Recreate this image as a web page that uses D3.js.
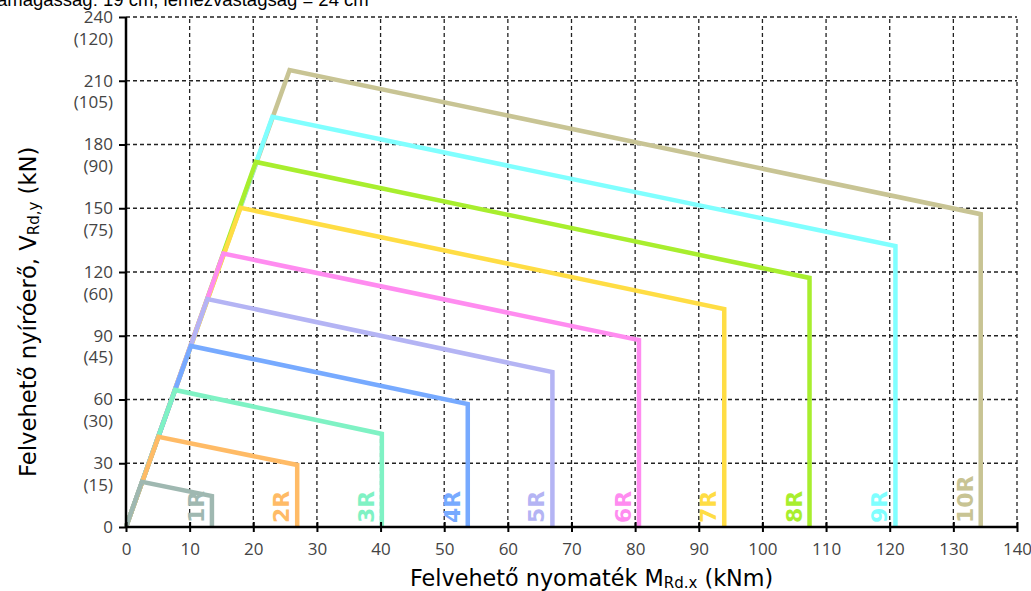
<!DOCTYPE html>
<html><head><meta charset="utf-8">
<script src="https://cdn.jsdelivr.net/npm/d3@7"></script>
<style>body{margin:0;background:#fff}svg{display:block}</style>
</head><body>
<svg id="c" width="1031" height="591"></svg>
<script>
const series = ["1R","2R","3R","4R","5R","6R","7R","8R","9R","10R"];
const peakX = [2.5, 5.1, 7.7, 10.2, 12.8, 15.3, 18.0, 20.4, 23.0, 25.7];
const peakY = [21.3, 42.4, 64.5, 85.2, 107.3, 128.7, 150.2, 171.8, 193.0, 215.0];
const endX = [13.5, 26.9, 40.2, 53.7, 67.0, 80.6, 94.0, 107.4, 120.9, 134.3];
const endY = [14.6, 29.2, 43.8, 57.9, 72.9, 88.0, 102.6, 117.2, 132.2, 147.2];
const colors = ["#9fb8b1","#ffbb66","#7ff2c4","#77aaff","#b4b4f4","#ff8cf0","#ffdd44","#a8ee2e","#80ffff","#c8c494"];
const xTicks = [0,10,20,30,40,50,60,70,80,90,100,110,120,130,140];
const yTicks = [0,30,60,90,120,150,180,210,240];
const yTicksSub = ["","(15)","(30)","(45)","(60)","(75)","(90)","(105)","(120)"];
const title = "amagasság: 19 cm, lemezvastagság = 24 cm";

const svg = d3.select("#c");
const x = d3.scaleLinear().domain([0,140]).range([126,1017]);
const y = d3.scaleLinear().domain([0,240]).range([527,17]);
const tickFont = "'Open Sans', sans-serif";
const tickSize = 17;
const labFont = "'DejaVu Sans', Verdana, sans-serif";

// grid
svg.append("g").selectAll("line").data(xTicks.filter(d=>d>0)).join("line")
  .attr("x1",d=>x(d)).attr("x2",d=>x(d)).attr("y1",y(0)).attr("y2",y(240))
  .attr("stroke","#222").attr("stroke-width",1.3).attr("stroke-dasharray","4,3");
svg.append("g").selectAll("line").data(yTicks.filter(d=>d>0)).join("line")
  .attr("x1",x(0)).attr("x2",x(140)).attr("y1",d=>y(d)).attr("y2",d=>y(d))
  .attr("stroke","#222").attr("stroke-width",1.3).attr("stroke-dasharray","4,3");

// series (draw largest first)
const line = d3.line().x(d=>x(d[0])).y(d=>y(d[1]));
const idx = d3.range(series.length).reverse();
svg.append("g").selectAll("path").data(idx).join("path")
  .attr("d", i => line([[0,0],[peakX[i],peakY[i]],[endX[i],endY[i]],[endX[i],0]]))
  .attr("fill","none").attr("stroke", i=>colors[i]).attr("stroke-width",4.5)
  .attr("stroke-linejoin","miter");

// series labels
svg.append("g").selectAll("text").data(d3.range(series.length)).join("text")
  .attr("transform", i => `translate(${x(endX[i])-8},${y(0)-4}) rotate(-90)`)
  .attr("font-family",labFont).attr("font-weight","bold")
  .attr("font-size",22).attr("fill", i=>colors[i]).text(i=>series[i]);

// axes
const xAxis = d3.axisBottom(x).tickValues(xTicks).tickSize(5).tickFormat(d3.format("d"));
const gx = svg.append("g").attr("transform",`translate(0,${y(0)})`).call(xAxis);
gx.select(".domain").attr("stroke","#000").attr("stroke-width",2.5).attr("d",`M${x(0)},0H${x(140)}`);
gx.selectAll(".tick line").attr("stroke","#000").attr("stroke-width",2).attr("y1",-5).attr("y2",5);
gx.selectAll(".tick text").attr("font-family",tickFont).attr("font-size",tickSize).attr("fill","#444").attr("y",16);

const yAxis = d3.axisLeft(y).tickValues(yTicks).tickSize(7).tickFormat(d3.format("d"));
const gy = svg.append("g").attr("transform",`translate(${x(0)},0)`).call(yAxis);
gy.select(".domain").attr("stroke","#000").attr("stroke-width",2.5).attr("d",`M0,${y(240)}V${y(0)}`);
gy.selectAll(".tick line").attr("stroke","#000").attr("stroke-width",2);
gy.selectAll(".tick text").attr("font-family",tickFont).attr("font-size",tickSize).attr("fill","#444").attr("x",-13);
gy.selectAll(".tick").each(function(d,i){
  if(!yTicksSub[i]) return;
  d3.select(this).append("text").attr("x",-13).attr("dy","1.6em").attr("text-anchor","end")
    .attr("font-family",tickFont).attr("font-size",tickSize).attr("fill","#444").text(yTicksSub[i]);
});

// title
svg.append("text").attr("x",-3).attr("y",6).attr("font-family","'Liberation Sans', Arial, sans-serif")
  .attr("font-size",18.5).attr("fill","#000").text(title);

// axis titles
const xl = svg.append("text").attr("x",410).attr("y",586)
  .attr("font-family",labFont).attr("font-size",22.3).attr("fill","#000");
xl.append("tspan").text("Felvehető nyomaték M");
xl.append("tspan").attr("font-size",15).attr("dy",2).text("Rd.x");
xl.append("tspan").attr("dy",-2).text(" (kNm)");

const yl = svg.append("text").attr("transform","translate(36,477) rotate(-90)")
  .attr("font-family",labFont).attr("font-size",22.7).attr("fill","#000");
yl.append("tspan").text("Felvehető nyíróerő, V");
yl.append("tspan").attr("font-size",15).attr("dy",3).text("Rd,y");
yl.append("tspan").attr("dy",-3).text(" (kN)");
</script>
</body></html>
